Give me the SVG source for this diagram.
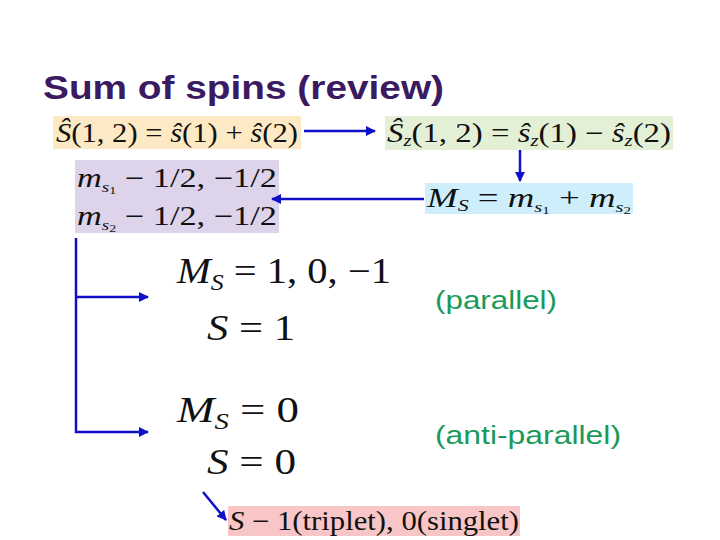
<svg xmlns="http://www.w3.org/2000/svg" width="720" height="540" viewBox="0 0 720 540">
<style>
.m{font-family:"Liberation Serif",serif;fill:#111}
.i{font-style:italic}
.g{font-family:"Liberation Sans",sans-serif;font-size:25px;fill:#1a9a5a}
.c{stroke:#1010c8;stroke-width:2.5;fill:none}
</style>
<defs><marker id="a" viewBox="0 0 10 10" refX="9" refY="5" markerWidth="4" markerHeight="4" orient="auto"><path d="M0,0L10,5L0,10z" fill="#1010c8"/></marker></defs>
<rect width="720" height="540" fill="#fff"/>
<text x="43" y="99" font-family="Liberation Sans,sans-serif" font-weight="bold" font-size="33" fill="#3a1a60" textLength="401" lengthAdjust="spacingAndGlyphs">Sum of spins (review)</text>
<g id="n1"><rect x="53" y="116" width="248" height="33" fill="#fde9c4"/><text class="m" x="56" y="142" font-size="27" textLength="242" lengthAdjust="spacingAndGlyphs"><tspan class="i">Ŝ</tspan>(1, 2) = <tspan class="i">ŝ</tspan>(1) + <tspan class="i">ŝ</tspan>(2)</text></g>
<g id="n2"><rect x="385" y="116" width="288" height="34" fill="#e3f0d6"/><text class="m" x="387" y="142" font-size="27" textLength="284" lengthAdjust="spacingAndGlyphs"><tspan class="i">Ŝ</tspan><tspan class="i" font-size="17" dy="4">z</tspan><tspan dy="-4">(1, 2) = </tspan><tspan class="i">ŝ</tspan><tspan class="i" font-size="17" dy="4">z</tspan><tspan dy="-4">(1) − </tspan><tspan class="i">ŝ</tspan><tspan class="i" font-size="17" dy="4">z</tspan><tspan dy="-4">(2)</tspan></text></g>
<g id="n3"><rect x="75" y="160" width="204" height="73" fill="#ddd3ea"/><text class="m" x="77" y="187" font-size="27" textLength="200" lengthAdjust="spacingAndGlyphs"><tspan class="i">m</tspan><tspan class="i" font-size="15" dy="5">s</tspan><tspan font-size="11" dy="2">1</tspan><tspan dy="-7"> − 1/2, −1/2</tspan></text><text class="m" x="77" y="225" font-size="27" textLength="200" lengthAdjust="spacingAndGlyphs"><tspan class="i">m</tspan><tspan class="i" font-size="15" dy="5">s</tspan><tspan font-size="11" dy="2">2</tspan><tspan dy="-7"> − 1/2, −1/2</tspan></text></g>
<g id="n4"><rect x="425" y="183" width="208" height="31" fill="#cdeefa"/><text class="m" x="427" y="207" font-size="27" textLength="204" lengthAdjust="spacingAndGlyphs"><tspan class="i">M</tspan><tspan class="i" font-size="16" dy="4">S</tspan><tspan dy="-4"> = </tspan><tspan class="i">m</tspan><tspan class="i" font-size="15" dy="5">s</tspan><tspan font-size="11" dy="2">1</tspan><tspan dy="-7"> + </tspan><tspan class="i">m</tspan><tspan class="i" font-size="15" dy="5">s</tspan><tspan font-size="11" dy="2">2</tspan></text></g>
<g id="n5"><text class="m" x="177" y="283" font-size="36" textLength="214" lengthAdjust="spacingAndGlyphs"><tspan class="i">M</tspan><tspan class="i" font-size="23" dy="7">S</tspan><tspan dy="-7"> = 1, 0, −1</tspan></text><text class="m" x="207" y="340" font-size="36" textLength="88" lengthAdjust="spacingAndGlyphs"><tspan class="i">S</tspan> = 1</text><text class="g" x="435" y="309" textLength="122" lengthAdjust="spacingAndGlyphs">(parallel)</text></g>
<g id="n6"><text class="m" x="177" y="422" font-size="36" textLength="122" lengthAdjust="spacingAndGlyphs"><tspan class="i">M</tspan><tspan class="i" font-size="23" dy="7">S</tspan><tspan dy="-7"> = 0</tspan></text><text class="m" x="207" y="474" font-size="36" textLength="89" lengthAdjust="spacingAndGlyphs"><tspan class="i">S</tspan> = 0</text><text class="g" x="435" y="444" textLength="186" lengthAdjust="spacingAndGlyphs">(anti-parallel)</text></g>
<g id="n7"><rect x="228" y="506" width="292" height="30" fill="#f8c6c6"/><text class="m" x="229" y="530" font-size="27" textLength="290" lengthAdjust="spacingAndGlyphs"><tspan class="i">S</tspan> − 1(triplet), 0(singlet)</text></g>
<g id="connectors">
<path class="c" d="M304,131H375" marker-end="url(#a)"/>
<path class="c" d="M520,150V181" marker-end="url(#a)"/>
<path class="c" d="M424,199H272" marker-end="url(#a)"/>
<path class="c" d="M76,238V432H148" marker-end="url(#a)"/>
<path class="c" d="M76,297H148" marker-end="url(#a)"/>
<path class="c" d="M203,492L226,520" marker-end="url(#a)"/>
</g>
</svg>
